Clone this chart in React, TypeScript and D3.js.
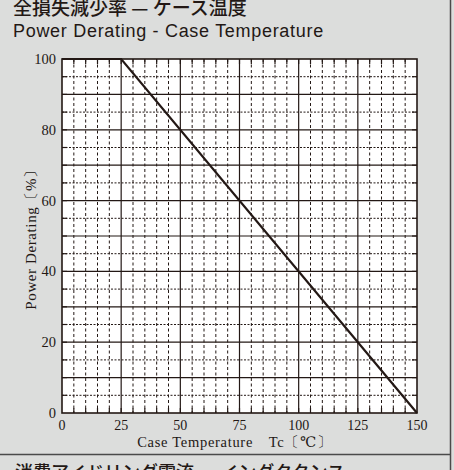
import React from "react";
import * as d3 from "d3";

const temps = [0, 25, 150];
const derating = [100, 100, 0];
const xTicks = [0, 25, 50, 75, 100, 125, 150];
const yTicks = [0, 20, 40, 60, 80, 100];

const W = 454;
const H = 470;
const INK = "#231815";
const BG = "#dcdddc";

export default function App() {
  const x = d3.scaleLinear().domain([0, 150]).range([62, 417]);
  const y = d3.scaleLinear().domain([0, 100]).range([413, 59]);

  const minorX = d3.range(5, 150, 5).filter((v) => v % 25 !== 0);
  const majorX = d3.range(25, 150, 25);
  const minorY = d3.range(5, 100, 10);
  const majorY = d3.range(10, 100, 10);
  const tickX = d3.range(5, 150, 5);
  const tickY = d3.range(5, 100, 5);

  const line = d3
    .line<number>()
    .x((_, i) => x(temps[i]))
    .y((d) => y(d));

  const [x0, x1] = x.range();
  const [y0, y1] = y.range();
  const serif = "'Liberation Serif', 'DejaVu Serif', serif";

  return (
    <svg
      width={W}
      height={H}
      style={{ position: "absolute", left: 0, top: 0, display: "block" }}
    >
      <rect x={0} y={0} width={W} height={H} fill={BG} />
      <line x1={450.5} x2={450.5} y1={0} y2={H} stroke="#4a4a4a" strokeWidth={1.5} />
      <line x1={0} x2={450.5} y1={454.5} y2={454.5} stroke="#4a4a4a" strokeWidth={1.5} />

      <text
        x={13}
        y={15}
        fontFamily="'Noto Sans CJK JP', sans-serif"
        fontSize={19}
        fontWeight={500}
        fill={INK}
        xmlSpace="preserve"
      >
        {"全損失減少率 — ケース温度"}
      </text>
      <text
        x={13}
        y={37}
        fontFamily="'Liberation Sans', Arial, sans-serif"
        fontSize={18}
        letterSpacing={0.7}
        fill={INK}
      >
        Power Derating - Case Temperature
      </text>

      <rect x={x0} y={y1} width={x1 - x0} height={y0 - y1} fill="#ffffff" />

      {minorX.map((v) => (
        <line
          key={"mx" + v}
          x1={x(v)}
          x2={x(v)}
          y1={y1}
          y2={y0}
          stroke={INK}
          strokeWidth={1}
          strokeDasharray="3,2.5"
        />
      ))}
      {minorY.map((v) => (
        <line
          key={"my" + v}
          x1={x0}
          x2={x1}
          y1={y(v)}
          y2={y(v)}
          stroke={INK}
          strokeWidth={1}
          strokeDasharray="2,1.5"
        />
      ))}
      {majorX.map((v) => (
        <line
          key={"Mx" + v}
          x1={x(v)}
          x2={x(v)}
          y1={y1}
          y2={y0}
          stroke={INK}
          strokeWidth={1.2}
        />
      ))}
      {majorY.map((v) => (
        <line
          key={"My" + v}
          x1={x0}
          x2={x1}
          y1={y(v)}
          y2={y(v)}
          stroke={INK}
          strokeWidth={1.2}
        />
      ))}
      {tickX.map((v) => (
        <g key={"tx" + v}>
          <line x1={x(v)} x2={x(v)} y1={y0} y2={y0 - 5} stroke={INK} strokeWidth={1.2} />
          <line x1={x(v)} x2={x(v)} y1={y1} y2={y1 + 5} stroke={INK} strokeWidth={1.2} />
        </g>
      ))}
      {tickY.map((v) => (
        <g key={"ty" + v}>
          <line x1={x0} x2={x0 + 5} y1={y(v)} y2={y(v)} stroke={INK} strokeWidth={1.2} />
          <line x1={x1} x2={x1 - 5} y1={y(v)} y2={y(v)} stroke={INK} strokeWidth={1.2} />
        </g>
      ))}

      <rect
        x={x0}
        y={y1}
        width={x1 - x0}
        height={y0 - y1}
        fill="none"
        stroke={INK}
        strokeWidth={1.6}
      />

      <path d={line(derating) || ""} fill="none" stroke={INK} strokeWidth={2.2} />

      {xTicks.map((v) => (
        <text
          key={"lx" + v}
          x={x(v)}
          y={430}
          textAnchor="middle"
          fontFamily={serif}
          fontSize={14}
          fill={INK}
        >
          {v}
        </text>
      ))}
      {yTicks.map((v) => (
        <text
          key={"ly" + v}
          x={56}
          y={y(v)}
          dy="0.35em"
          textAnchor="end"
          fontFamily={serif}
          fontSize={14.5}
          fill={INK}
        >
          {v}
        </text>
      ))}

      <text
        x={235}
        y={447}
        textAnchor="middle"
        fontFamily={serif}
        fontSize={14.5}
        letterSpacing={0.7}
        fill={INK}
        xmlSpace="preserve"
      >
        {"Case Temperature\u3000Tc〔℃〕"}
      </text>
      <text
        transform={`translate(36,${(y0 + y1) / 2}) rotate(-90)`}
        textAnchor="middle"
        fontFamily={serif}
        fontSize={15}
        letterSpacing={0.6}
        fill={INK}
      >
        Power Derating〔%〕
      </text>

      <text
        x={15}
        y={479}
        fontFamily="'Noto Sans CJK JP', sans-serif"
        fontSize={18}
        fontWeight={500}
        fill={INK}
      >
        消費アイドリング電流 ー インダクタンス
      </text>
    </svg>
  );
}
